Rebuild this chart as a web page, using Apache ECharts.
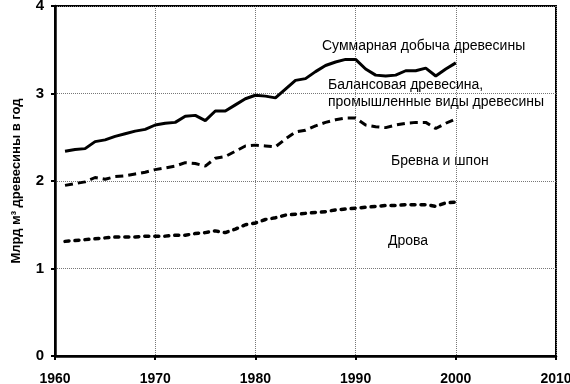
<!DOCTYPE html>
<html><head><meta charset="utf-8">
<script src="https://cdn.jsdelivr.net/npm/echarts@6/dist/echarts.min.js"></script>
<style>html,body{margin:0;padding:0;background:#fff}#c{width:570px;height:384px}</style>
</head><body><div id="c"></div>
<script>
const years = [1961,1962,1963,1964,1965,1966,1967,1968,1969,1970,1971,1972,1973,1974,1975,1976,1977,1978,1979,1980,1981,1982,1983,1984,1985,1986,1987,1988,1989,1990,1991,1992,1993,1994,1995,1996,1997,1998,1999,2000];
const total = [2.34,2.36,2.37,2.45,2.47,2.51,2.54,2.57,2.59,2.64,2.66,2.67,2.74,2.75,2.69,2.80,2.80,2.87,2.94,2.98,2.97,2.95,3.05,3.15,3.17,3.25,3.32,3.36,3.39,3.39,3.28,3.21,3.20,3.21,3.26,3.26,3.29,3.20,3.28,3.35];
const industrial = [1.95,1.97,1.99,2.04,2.02,2.05,2.06,2.08,2.10,2.13,2.15,2.17,2.21,2.20,2.17,2.26,2.28,2.34,2.40,2.41,2.40,2.39,2.48,2.56,2.58,2.63,2.67,2.70,2.72,2.72,2.64,2.62,2.61,2.64,2.66,2.67,2.67,2.60,2.66,2.71];
const fuelwood = [1.31,1.32,1.33,1.34,1.35,1.36,1.36,1.36,1.37,1.37,1.37,1.38,1.38,1.40,1.41,1.43,1.41,1.45,1.50,1.52,1.56,1.58,1.61,1.62,1.63,1.64,1.65,1.67,1.68,1.69,1.70,1.71,1.72,1.72,1.73,1.73,1.73,1.71,1.75,1.76];
const seriesNames = ['Суммарная добыча древесины','Балансовая древесина, промышленные виды древесины','Бревна и шпон','Дрова'];
const yAxisName = 'Млрд м³ древесины в год';

const font = 'Liberation Sans, Arial, sans-serif';
const pair = (arr) => years.map((y,i)=>[y,arr[i]]);
const chart = echarts.init(document.getElementById('c'), null, {renderer:'canvas'});
const grid = {left:55, right:14, top:6, bottom:28};
chart.setOption({
  animation:false,
  grid:{...grid, outerBoundsMode:'none', containLabel:false, show:true, borderColor:'#000', borderWidth:2, backgroundColor:'transparent'},
  xAxis:{type:'value', min:1960, max:2010, interval:10,
    axisLine:{show:true, onZero:false, lineStyle:{color:'#000', width:2.5}},
    axisTick:{show:true, length:4, lineStyle:{color:'#000', width:2}},
    axisLabel:{color:'#000', fontFamily:font, fontWeight:'bold', fontSize:14, margin:16, showMaxLabel:true, formatter:(v)=>String(v)},
    splitLine:{show:true, lineStyle:{color:'#777', width:1, type:[1,1]}}},
  yAxis:{type:'value', min:0, max:4, interval:1,
    name:yAxisName, nameLocation:'middle', nameGap:32, nameRotate:90,
    nameTextStyle:{color:'#000', fontFamily:font, fontWeight:'bold', fontSize:13},
    axisLine:{show:true, lineStyle:{color:'#000', width:2.5}},
    axisTick:{show:true, length:4, lineStyle:{color:'#000', width:2}},
    axisLabel:{color:'#000', fontFamily:font, fontWeight:'bold', fontSize:15, margin:11},
    splitLine:{show:true, lineStyle:{color:'#777', width:1, type:[1,1]}}},
  series:[
    {name:seriesNames[0], type:'line', data:pair(total), showSymbol:false, lineStyle:{color:'#000', width:3}},
    {name:seriesNames[2], type:'line', data:pair(industrial), showSymbol:false, lineStyle:{color:'#000', width:3, type:[8,5]}},
    {name:seriesNames[3], type:'line', data:pair(fuelwood), showSymbol:false, lineStyle:{color:'#000', width:3.5, type:[4,6], cap:'round'}}
  ],
  graphic:[
    {type:'text', left:322, top:39, style:{text:seriesNames[0], font:'14px '+font, fill:'#000'}},
    {type:'text', left:328, top:77, style:{text:'Балансовая древесина,\nпромышленные виды древесины', font:'14px '+font, fill:'#000', lineHeight:17}},
    {type:'text', left:391, top:154, style:{text:seriesNames[2], font:'14px '+font, fill:'#000'}},
    {type:'text', left:388, top:234, style:{text:seriesNames[3], font:'14px '+font, fill:'#000'}}
  ]
});
</script></body></html>
